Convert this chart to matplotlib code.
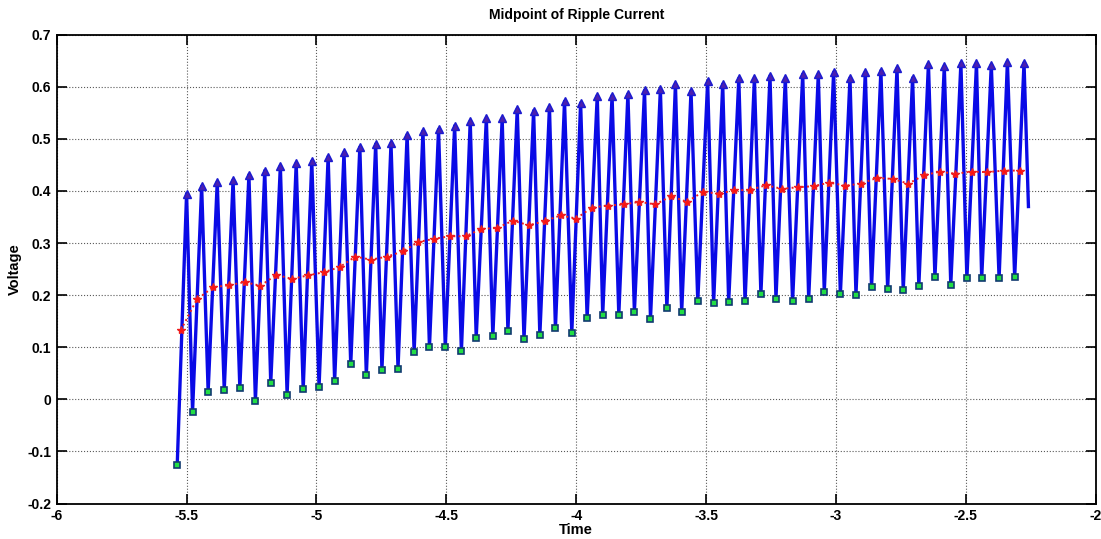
import numpy as np
import matplotlib
matplotlib.use("Agg")
import matplotlib.pyplot as plt

# Valley points of the ripple (start of each rise)
t_low = [-5.536, -5.477, -5.417, -5.355, -5.295, -5.235, -5.176, -5.113, -5.051, -4.990,
         -4.930, -4.868, -4.808, -4.748, -4.686, -4.624, -4.565, -4.504, -4.442, -4.385,
         -4.321, -4.263, -4.201, -4.140, -4.080, -4.017, -3.958, -3.898, -3.836, -3.776,
         -3.714, -3.651, -3.594, -3.532, -3.471, -3.413, -3.350, -3.289, -3.231, -3.167,
         -3.105, -3.045, -2.983, -2.923, -2.863, -2.801, -2.741, -2.681, -2.619, -2.558,
         -2.496, -2.439, -2.372, -2.312]
v_low = [-0.126, -0.024, 0.015, 0.018, 0.022, -0.003, 0.031, 0.009, 0.019, 0.024,
         0.035, 0.067, 0.046, 0.056, 0.059, 0.091, 0.100, 0.100, 0.092, 0.118,
         0.121, 0.132, 0.115, 0.123, 0.136, 0.127, 0.156, 0.162, 0.162, 0.168,
         0.155, 0.175, 0.167, 0.188, 0.185, 0.187, 0.188, 0.202, 0.193, 0.188,
         0.193, 0.206, 0.202, 0.201, 0.216, 0.212, 0.209, 0.218, 0.234, 0.220,
         0.232, 0.232, 0.232, 0.234]

# Peak points of the ripple
t_high = [-5.500, -5.442, -5.382, -5.321, -5.260, -5.199, -5.139, -5.078, -5.018,
          -4.955, -4.894, -4.833, -4.772, -4.713, -4.651, -4.590, -4.530, -4.468, -4.408,
          -4.346, -4.285, -4.227, -4.164, -4.103, -4.045, -3.983, -3.919, -3.862, -3.801,
          -3.737, -3.676, -3.618, -3.558, -3.494, -3.436, -3.374, -3.314, -3.254, -3.195,
          -3.128, -3.068, -3.009, -2.946, -2.887, -2.827, -2.765, -2.705, -2.644,
          -2.583, -2.519, -2.459, -2.402, -2.340, -2.276]
v_high = [0.395, 0.409, 0.417, 0.421, 0.431, 0.439, 0.448, 0.453, 0.457,
          0.466, 0.474, 0.484, 0.490, 0.491, 0.508, 0.515, 0.518, 0.525, 0.534,
          0.539, 0.539, 0.557, 0.554, 0.561, 0.572, 0.569, 0.583, 0.583, 0.586,
          0.593, 0.595, 0.605, 0.592, 0.610, 0.605, 0.616, 0.616, 0.621, 0.616,
          0.624, 0.624, 0.628, 0.617, 0.628, 0.631, 0.635, 0.617, 0.644,
          0.639, 0.645, 0.645, 0.642, 0.648, 0.646]

# Midpoints between each valley and the following peak
t_mid = [-5.522, -5.460, -5.398, -5.337, -5.276, -5.216, -5.154, -5.094, -5.032, -4.971,
         -4.910, -4.850, -4.790, -4.728, -4.667, -4.608, -4.548, -4.486, -4.426, -4.365,
         -4.304, -4.244, -4.182, -4.122, -4.060, -4.000, -3.940, -3.878, -3.817, -3.757,
         -3.695, -3.635, -3.574, -3.513, -3.451, -3.391, -3.330, -3.269, -3.208, -3.148,
         -3.086, -3.026, -2.964, -2.904, -2.842, -2.782, -2.721, -2.662, -2.600, -2.541,
         -2.478, -2.417, -2.355, -2.292]
v_mid = [0.133, 0.192, 0.215, 0.219, 0.225, 0.218, 0.239, 0.231, 0.238, 0.244,
         0.254, 0.274, 0.268, 0.274, 0.284, 0.302, 0.308, 0.313, 0.313, 0.327,
         0.329, 0.343, 0.334, 0.342, 0.353, 0.347, 0.368, 0.372, 0.374, 0.379,
         0.374, 0.390, 0.379, 0.398, 0.395, 0.401, 0.402, 0.411, 0.404, 0.407,
         0.409, 0.416, 0.410, 0.414, 0.425, 0.423, 0.414, 0.430, 0.437, 0.433,
         0.437, 0.436, 0.439, 0.439]

# last sample of the waveform after the final peak
t_end = -2.259
v_end = 0.370

plt.rcParams["font.family"] = ["Liberation Sans", "DejaVu Sans"]
plt.rcParams["font.weight"] = "bold"

# interleave valleys and peaks into one waveform
wave_t = np.column_stack([t_low, t_high]).ravel().tolist() + [t_end]
wave_v = np.column_stack([v_low, v_high]).ravel().tolist() + [v_end]

fig = plt.figure(figsize=(11.01, 5.39), dpi=100)
ax = fig.add_axes([0.0515, 0.0658, 0.9437, 0.8700])

ax.plot(wave_t, wave_v, color="#0a0ae6", linewidth=2.4, zorder=2)
ax.plot(t_high, v_high, linestyle="none", marker="^", markersize=5.5,
        markerfacecolor="#4b1fb0", markeredgecolor="#1a1ad0", markeredgewidth=1.0, zorder=3)
ax.plot(t_low, v_low, linestyle="none", marker="s", markersize=5,
        markerfacecolor="#22dd44", markeredgecolor="#103a70", markeredgewidth=1.2, zorder=3)
ax.plot(t_mid, v_mid, linestyle=":", color="#ee2020", linewidth=1.4,
        marker="*", markersize=6, markerfacecolor="#ff1010", markeredgecolor="#ee2020", zorder=4)

ax.set_xlim(-6, -2)
ax.set_ylim(-0.2, 0.7)
ax.set_xticks(np.arange(-6, -1.99, 0.5))
ax.set_yticks(np.arange(-0.2, 0.71, 0.1))
ax.set_xticklabels(["-6", "-5.5", "-5", "-4.5", "-4", "-3.5", "-3", "-2.5", "-2"])
ax.set_yticklabels(["-0.2", "-0.1", "0", "0.1", "0.2", "0.3", "0.4", "0.5", "0.6", "0.7"])

ax.grid(True, linestyle=":", color="0.35", linewidth=0.8)
ax.tick_params(direction="in", length=7, width=1.2, top=True, right=True,
               labelsize=10, pad=4)
for lbl in ax.get_xticklabels() + ax.get_yticklabels():
    lbl.set_fontweight("bold")
for s in ax.spines.values():
    s.set_linewidth(1.3)

ax.set_title("Midpoint of Ripple Current", fontsize=10, fontweight="bold", pad=11)
ax.set_xlabel("Time", fontsize=10.5, fontweight="bold", labelpad=0)
ax.set_ylabel("Voltage", fontsize=10.5, fontweight="bold", labelpad=4)

fig.savefig("out.png", dpi=100)
plt.close(fig)
